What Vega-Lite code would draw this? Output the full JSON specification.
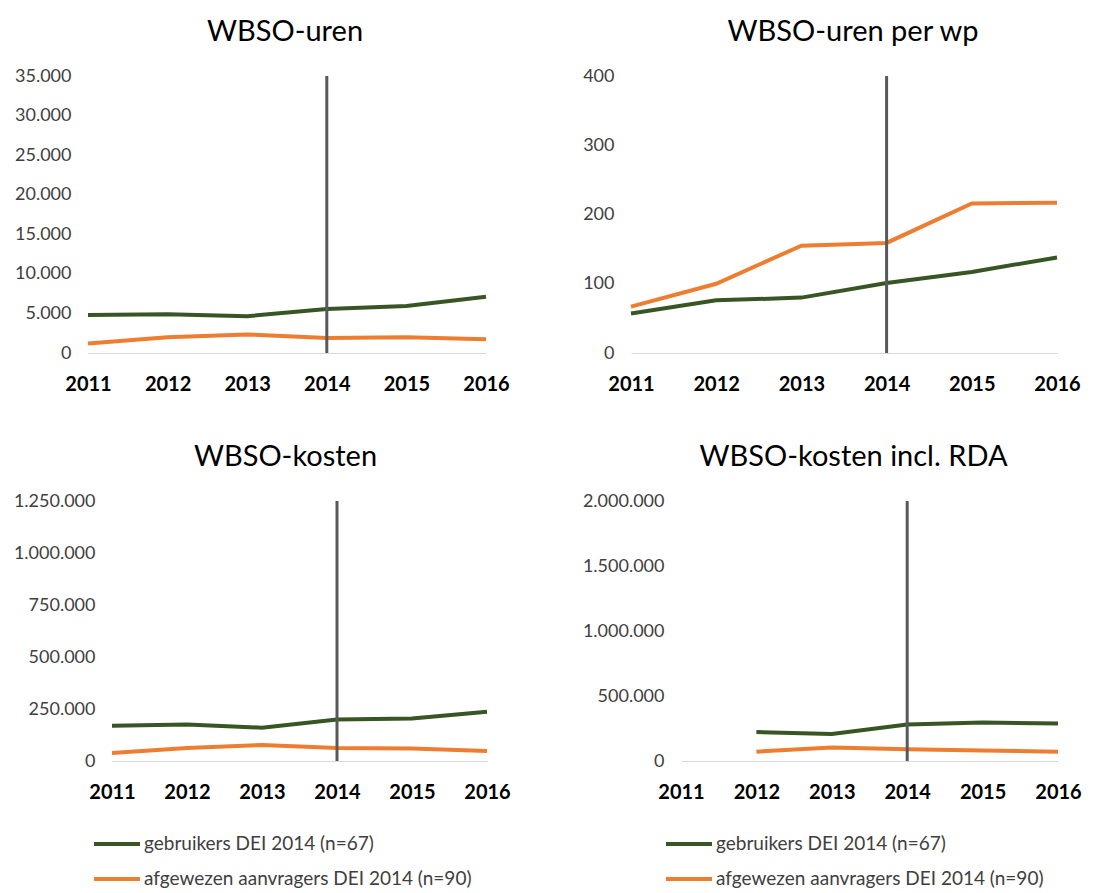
{
  "$schema": "https://vega.github.io/schema/vega-lite/v6.json",
  "padding": {"left": 13, "top": 18, "right": 5, "bottom": 5},
  "background": "white",
  "datasets": {
    "series": [
      {"panel": "p1", "year": 2011, "group": "gebruikers DEI 2014 (n=67)", "value": 4800},
      {"panel": "p1", "year": 2012, "group": "gebruikers DEI 2014 (n=67)", "value": 4900},
      {"panel": "p1", "year": 2013, "group": "gebruikers DEI 2014 (n=67)", "value": 4650},
      {"panel": "p1", "year": 2014, "group": "gebruikers DEI 2014 (n=67)", "value": 5550},
      {"panel": "p1", "year": 2015, "group": "gebruikers DEI 2014 (n=67)", "value": 5950},
      {"panel": "p1", "year": 2016, "group": "gebruikers DEI 2014 (n=67)", "value": 7100},
      {"panel": "p1", "year": 2011, "group": "afgewezen aanvragers DEI 2014 (n=90)", "value": 1200},
      {"panel": "p1", "year": 2012, "group": "afgewezen aanvragers DEI 2014 (n=90)", "value": 2000},
      {"panel": "p1", "year": 2013, "group": "afgewezen aanvragers DEI 2014 (n=90)", "value": 2350},
      {"panel": "p1", "year": 2014, "group": "afgewezen aanvragers DEI 2014 (n=90)", "value": 1900},
      {"panel": "p1", "year": 2015, "group": "afgewezen aanvragers DEI 2014 (n=90)", "value": 2000},
      {"panel": "p1", "year": 2016, "group": "afgewezen aanvragers DEI 2014 (n=90)", "value": 1750},
      {"panel": "p2", "year": 2011, "group": "gebruikers DEI 2014 (n=67)", "value": 57},
      {"panel": "p2", "year": 2012, "group": "gebruikers DEI 2014 (n=67)", "value": 76},
      {"panel": "p2", "year": 2013, "group": "gebruikers DEI 2014 (n=67)", "value": 80},
      {"panel": "p2", "year": 2014, "group": "gebruikers DEI 2014 (n=67)", "value": 101},
      {"panel": "p2", "year": 2015, "group": "gebruikers DEI 2014 (n=67)", "value": 117},
      {"panel": "p2", "year": 2016, "group": "gebruikers DEI 2014 (n=67)", "value": 138},
      {"panel": "p2", "year": 2011, "group": "afgewezen aanvragers DEI 2014 (n=90)", "value": 67},
      {"panel": "p2", "year": 2012, "group": "afgewezen aanvragers DEI 2014 (n=90)", "value": 100},
      {"panel": "p2", "year": 2013, "group": "afgewezen aanvragers DEI 2014 (n=90)", "value": 155},
      {"panel": "p2", "year": 2014, "group": "afgewezen aanvragers DEI 2014 (n=90)", "value": 159},
      {"panel": "p2", "year": 2015, "group": "afgewezen aanvragers DEI 2014 (n=90)", "value": 216},
      {"panel": "p2", "year": 2016, "group": "afgewezen aanvragers DEI 2014 (n=90)", "value": 217},
      {"panel": "p3", "year": 2011, "group": "gebruikers DEI 2014 (n=67)", "value": 170000},
      {"panel": "p3", "year": 2012, "group": "gebruikers DEI 2014 (n=67)", "value": 176000},
      {"panel": "p3", "year": 2013, "group": "gebruikers DEI 2014 (n=67)", "value": 160000},
      {"panel": "p3", "year": 2014, "group": "gebruikers DEI 2014 (n=67)", "value": 200000},
      {"panel": "p3", "year": 2015, "group": "gebruikers DEI 2014 (n=67)", "value": 204000},
      {"panel": "p3", "year": 2016, "group": "gebruikers DEI 2014 (n=67)", "value": 237000},
      {"panel": "p3", "year": 2011, "group": "afgewezen aanvragers DEI 2014 (n=90)", "value": 38000},
      {"panel": "p3", "year": 2012, "group": "afgewezen aanvragers DEI 2014 (n=90)", "value": 62000},
      {"panel": "p3", "year": 2013, "group": "afgewezen aanvragers DEI 2014 (n=90)", "value": 77000},
      {"panel": "p3", "year": 2014, "group": "afgewezen aanvragers DEI 2014 (n=90)", "value": 62000},
      {"panel": "p3", "year": 2015, "group": "afgewezen aanvragers DEI 2014 (n=90)", "value": 60000},
      {"panel": "p3", "year": 2016, "group": "afgewezen aanvragers DEI 2014 (n=90)", "value": 48000},
      {"panel": "p4", "year": 2012, "group": "gebruikers DEI 2014 (n=67)", "value": 223000},
      {"panel": "p4", "year": 2013, "group": "gebruikers DEI 2014 (n=67)", "value": 208000},
      {"panel": "p4", "year": 2014, "group": "gebruikers DEI 2014 (n=67)", "value": 280000},
      {"panel": "p4", "year": 2015, "group": "gebruikers DEI 2014 (n=67)", "value": 296000},
      {"panel": "p4", "year": 2016, "group": "gebruikers DEI 2014 (n=67)", "value": 288000},
      {"panel": "p4", "year": 2012, "group": "afgewezen aanvragers DEI 2014 (n=90)", "value": 72000},
      {"panel": "p4", "year": 2013, "group": "afgewezen aanvragers DEI 2014 (n=90)", "value": 103000},
      {"panel": "p4", "year": 2014, "group": "afgewezen aanvragers DEI 2014 (n=90)", "value": 91000},
      {"panel": "p4", "year": 2015, "group": "afgewezen aanvragers DEI 2014 (n=90)", "value": 80000},
      {"panel": "p4", "year": 2016, "group": "afgewezen aanvragers DEI 2014 (n=90)", "value": 72000}
    ],
    "vlines": [
      {"panel": "p1", "year": 2014, "lo": 0, "hi": 35000},
      {"panel": "p2", "year": 2014, "lo": 0, "hi": 400},
      {"panel": "p3", "year": 2014, "lo": 0, "hi": 1250000},
      {"panel": "p4", "year": 2014, "lo": 0, "hi": 2000000}
    ]
  },
  "vconcat": [
    {
      "hconcat": [
        {
          "title": {"text": "WBSO-uren", "dx": -2},
          "width": 398, "height": 277,
          "layer": [
            {
              "data": {"name": "series"},
              "transform": [{"filter": "datum.panel == 'p1'"}],
              "mark": {"type": "line", "strokeWidth": 4},
              "encoding": {
                "x": {"field": "year", "type": "ordinal", "scale": {"type": "point", "padding": 0, "domain": [2011, 2012, 2013, 2014, 2015, 2016]}, "title": null},
                "y": {"field": "value", "type": "quantitative", "scale": {"domain": [0, 35000], "nice": false}, "axis": {"values": [0, 5000, 10000, 15000, 20000, 25000, 30000, 35000], "labelOverlap": false, "labelSeparation": 0, "tickCount": 8}, "title": null},
                "color": {"field": "group", "type": "nominal", "scale": {"domain": ["gebruikers DEI 2014 (n=67)", "afgewezen aanvragers DEI 2014 (n=90)"], "range": ["#375623", "#ED7D31"]}, "legend": null}
              }
            },
            {
              "data": {"name": "vlines"},
              "transform": [{"filter": "datum.panel == 'p1'"}],
              "mark": {"type": "rule", "strokeWidth": 3, "color": "#595959"},
              "encoding": {
                "x": {"field": "year", "type": "ordinal"},
                "y": {"field": "lo", "type": "quantitative", "axis": {"values": [0, 5000, 10000, 15000, 20000, 25000, 30000, 35000], "labelOverlap": false, "labelSeparation": 0, "tickCount": 8}},
                "y2": {"field": "hi"}
              }
            }
          ]
        },
        {
          "title": {"text": "WBSO-uren per wp", "dx": 9},
          "width": 426, "height": 277,
          "layer": [
            {
              "data": {"name": "series"},
              "transform": [{"filter": "datum.panel == 'p2'"}],
              "mark": {"type": "line", "strokeWidth": 4},
              "encoding": {
                "x": {"field": "year", "type": "ordinal", "scale": {"type": "point", "padding": 0, "domain": [2011, 2012, 2013, 2014, 2015, 2016]}, "title": null},
                "y": {"field": "value", "type": "quantitative", "scale": {"domain": [0, 400], "nice": false}, "axis": {"values": [0, 100, 200, 300, 400], "labelOverlap": false}, "title": null},
                "color": {"field": "group", "type": "nominal", "scale": {"domain": ["gebruikers DEI 2014 (n=67)", "afgewezen aanvragers DEI 2014 (n=90)"], "range": ["#375623", "#ED7D31"]}, "legend": null}
              }
            },
            {
              "data": {"name": "vlines"},
              "transform": [{"filter": "datum.panel == 'p2'"}],
              "mark": {"type": "rule", "strokeWidth": 3, "color": "#595959"},
              "encoding": {
                "x": {"field": "year", "type": "ordinal"},
                "y": {"field": "lo", "type": "quantitative", "axis": {"values": [0, 100, 200, 300, 400], "labelOverlap": false}},
                "y2": {"field": "hi"}
              }
            }
          ]
        }
      ],
      "spacing": 72,
      "resolve": {"scale": {"color": "independent", "x": "independent", "y": "independent"}, "legend": {"color": "independent"}}
    },
    {
      "hconcat": [
        {
          "title": {"text": "WBSO-kosten", "dx": -2},
          "width": 399, "height": 260,
          "layer": [
            {
              "data": {"name": "series"},
              "transform": [{"filter": "datum.panel == 'p3'"}],
              "mark": {"type": "line", "strokeWidth": 4},
              "encoding": {
                "x": {"field": "year", "type": "ordinal", "scale": {"type": "point", "padding": 0, "range": [24, 399], "domain": [2011, 2012, 2013, 2014, 2015, 2016]}, "title": null},
                "y": {"field": "value", "type": "quantitative", "scale": {"domain": [0, 1250000], "nice": false}, "axis": {"values": [0, 250000, 500000, 750000, 1000000, 1250000], "labelOverlap": false, "offset": -24}, "title": null},
                "color": {"field": "group", "type": "nominal", "scale": {"domain": ["gebruikers DEI 2014 (n=67)", "afgewezen aanvragers DEI 2014 (n=90)"], "range": ["#375623", "#ED7D31"]}, "legend": {"legendX": 4, "legendY": 318}}
              }
            },
            {
              "data": {"name": "vlines"},
              "transform": [{"filter": "datum.panel == 'p3'"}],
              "mark": {"type": "rule", "strokeWidth": 3, "color": "#595959"},
              "encoding": {
                "x": {"field": "year", "type": "ordinal"},
                "y": {"field": "lo", "type": "quantitative", "axis": {"values": [0, 250000, 500000, 750000, 1000000, 1250000], "labelOverlap": false, "offset": -24}},
                "y2": {"field": "hi"}
              }
            }
          ]
        },
        {
          "title": {"text": "WBSO-kosten incl. RDA", "dx": -16},
          "width": 377, "height": 260,
          "layer": [
            {
              "data": {"name": "series"},
              "transform": [{"filter": "datum.panel == 'p4'"}],
              "mark": {"type": "line", "strokeWidth": 4},
              "encoding": {
                "x": {"field": "year", "type": "ordinal", "scale": {"type": "point", "padding": 0, "domain": [2011, 2012, 2013, 2014, 2015, 2016]}, "title": null},
                "y": {"field": "value", "type": "quantitative", "scale": {"domain": [0, 2000000], "nice": false}, "axis": {"values": [0, 500000, 1000000, 1500000, 2000000], "labelOverlap": false}, "title": null},
                "color": {"field": "group", "type": "nominal", "scale": {"domain": ["gebruikers DEI 2014 (n=67)", "afgewezen aanvragers DEI 2014 (n=90)"], "range": ["#375623", "#ED7D31"]}, "legend": {"legendX": -17, "legendY": 318}}
              }
            },
            {
              "data": {"name": "vlines"},
              "transform": [{"filter": "datum.panel == 'p4'"}],
              "mark": {"type": "rule", "strokeWidth": 3, "color": "#595959"},
              "encoding": {
                "x": {"field": "year", "type": "ordinal"},
                "y": {"field": "lo", "type": "quantitative", "axis": {"values": [0, 500000, 1000000, 1500000, 2000000], "labelOverlap": false}},
                "y2": {"field": "hi"}
              }
            }
          ]
        }
      ],
      "spacing": 71,
      "resolve": {"scale": {"color": "independent", "x": "independent", "y": "independent"}, "legend": {"color": "independent"}}
    }
  ],
  "spacing": 49,
  "resolve": {"scale": {"color": "independent", "x": "independent", "y": "independent"}, "legend": {"color": "independent"}},
  "config": {
    "view": {"stroke": null},
    "locale": {"number": {"decimal": ",", "thousands": ".", "grouping": [3], "currency": ["€", ""]}},
    "title": {"font": "Lato", "fontSize": 29, "fontWeight": "normal", "color": "#000000", "anchor": "middle", "offset": 20, "frame": "group"},
    "axisY": {"domain": false, "ticks": false, "grid": false, "labelFont": "Lato", "labelFontSize": 18, "labelColor": "#404040", "labelPadding": 17, "format": ",.0f", "labelOverlap": false},
    "axisX": {"domain": true, "domainColor": "#D9D9D9", "domainWidth": 1, "ticks": false, "grid": false, "labelFont": "Lato", "labelFontSize": 20, "labelFontWeight": "bold", "labelColor": "#000000", "labelPadding": 21, "labelAngle": 0},
    "legend": {"orient": "none", "direction": "vertical", "title": null, "symbolType": "stroke", "symbolSize": 2116, "symbolStrokeWidth": 4, "labelFont": "Lato", "labelFontSize": 19, "labelColor": "#404040", "rowPadding": -1, "labelOffset": 2, "labelLimit": 500}
  }
}
